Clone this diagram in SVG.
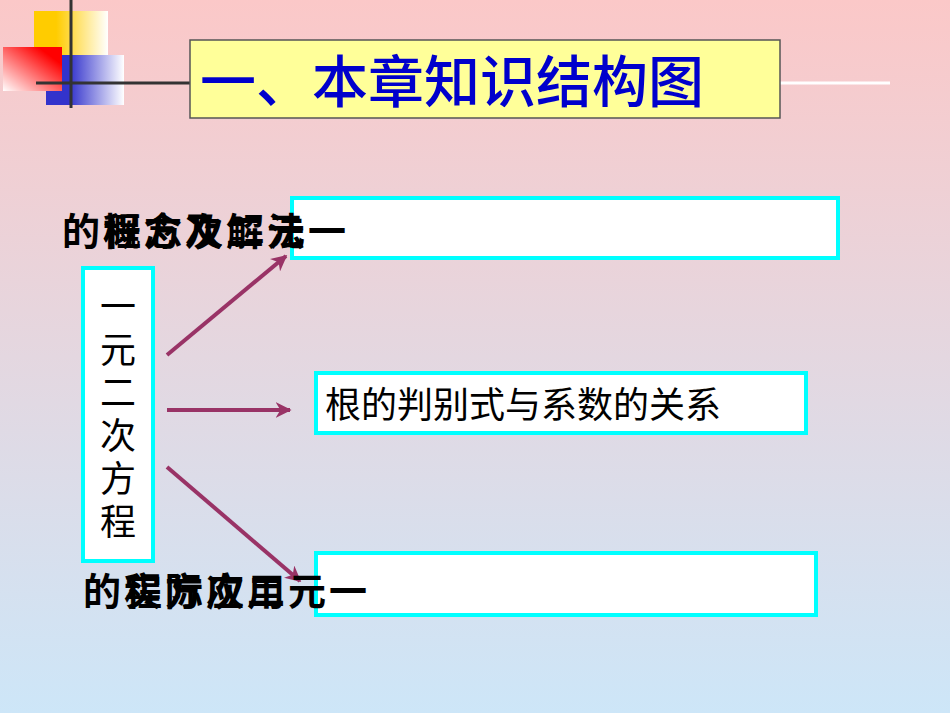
<svg xmlns="http://www.w3.org/2000/svg" width="950" height="713" viewBox="0 0 950 713">
<defs>
<linearGradient id="bg" x1="0" y1="0" x2="0" y2="1"><stop offset="0" stop-color="#fbc8c8"/><stop offset="1" stop-color="#cde6f8"/></linearGradient>
<linearGradient id="gy" x1="0" x2="1"><stop offset="0.3" stop-color="#ffcc00"/><stop offset="1" stop-color="#fff"/></linearGradient>
<linearGradient id="gr" x1="1" y1="0" x2="0" y2="1"><stop offset="0.2" stop-color="#ff0000"/><stop offset="1" stop-color="#fff"/></linearGradient>
<linearGradient id="gb" x1="0" x2="1"><stop offset="0.3" stop-color="#3333cc"/><stop offset="1" stop-color="#fff"/></linearGradient>
<marker id="ah" viewBox="0 0 10 10" refX="9" refY="5" markerWidth="4" markerHeight="4" orient="auto"><path d="M0,0 L10,5 L0,10 L3,5 z" fill="#993366"/></marker>
<style>
.box{fill:#fff;stroke:#00ffff;stroke-width:4}
.t{font-family:"Noto Sans CJK SC",sans-serif;font-size:36px;fill:#000}
.s{font-family:"Noto Sans CJK SC",serif;font-size:38px;fill:#000;font-weight:bold}
.c{stroke:#993366;stroke-width:4;fill:none;marker-end:url(#ah)}
</style>
</defs>
<rect width="950" height="713" fill="url(#bg)"/>
<g id="deco">
<rect x="34" y="11" width="74" height="44" fill="url(#gy)"/>
<rect x="46" y="55" width="78" height="50" fill="url(#gb)"/>
<rect x="3" y="47" width="59" height="44" fill="url(#gr)"/>
<line x1="71" y1="0" x2="71" y2="108" stroke="#333" stroke-width="3"/>
<line x1="36" y1="83" x2="190" y2="83" stroke="#333" stroke-width="3"/>
<line x1="780" y1="83" x2="890" y2="83" stroke="#fff" stroke-width="3"/>
</g>
<g id="title">
<rect x="190" y="40" width="590" height="78" fill="#ffff99" stroke="#555" stroke-width="1.5"/>
<text x="200" y="102" font-family="Noto Sans CJK SC,sans-serif" font-size="56" fill="#0000cc" font-weight="500">一、本章知识结构图</text>
</g>
<g id="connectors">
<line class="c" x1="167" y1="355" x2="286" y2="256"/>
<line class="c" x1="167" y1="410" x2="290" y2="410"/>
<line class="c" x1="167" y1="467" x2="300" y2="581"/>
</g>
<g id="root">
<rect class="box" x="83" y="268" width="70" height="293"/>
<text class="t" text-anchor="middle"><tspan x="118" y="320">一</tspan><tspan x="118" y="363">元</tspan><tspan x="118" y="406">二</tspan><tspan x="118" y="449">次</tspan><tspan x="118" y="492">方</tspan><tspan x="118" y="535">程</tspan></text>
</g>
<g id="n1">
<rect class="box" x="292" y="198" width="546" height="60"/>
<text class="s" x="62" y="245" letter-spacing="3">的概念及解法</text>
<text class="s" x="103" y="245" letter-spacing="3">程方次二元一</text>
</g>
<g id="n2">
<rect class="box" x="316" y="373" width="490" height="60"/>
<text class="t" x="325" y="418">根的判别式与系数的关系</text>
</g>
<g id="n3">
<rect class="box" x="316" y="553" width="500" height="62"/>
<text class="s" x="83" y="605" letter-spacing="3">的实际应用</text>
<text class="s" x="124" y="605" letter-spacing="3">程方次二元一</text>
</g>
</svg>
